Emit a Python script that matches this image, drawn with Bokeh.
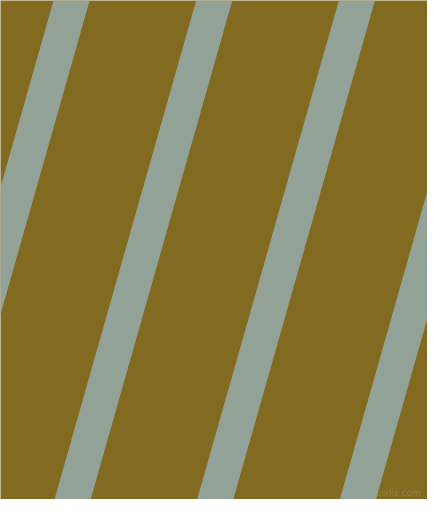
from bokeh.plotting import figure
from bokeh.models import Range1d
from bokeh.core.properties import value
from bokeh.embed import file_html
from bokeh.resources import INLINE

# ---- data ----
background_color = "#826a21"
stripe_color = "#93a296"
stripe_top_x = [55, 203, 351, 499]   # left edge of each stripe at the top
stripe_width = 37.5                  # horizontal width of a stripe
stripe_drift = 147                   # horizontal shift of a stripe from top to bottom
canvas_w = 443
canvas_h = 515
watermark_text = ["pixlis.com"]
watermark_x = [436]
watermark_y = [508]

p = figure(width=427, height=499, output_backend="svg", toolbar_location=None,
           x_range=Range1d(0, canvas_w), y_range=Range1d(canvas_h, 0),
           min_border=0, min_border_left=0, min_border_right=0,
           min_border_top=0, min_border_bottom=0)
p.axis.visible = False
p.grid.visible = False
p.outline_line_color = None
p.background_fill_color = background_color
p.border_fill_color = background_color

xs = [[x0, x0 + stripe_width, x0 + stripe_width - stripe_drift, x0 - stripe_drift]
      for x0 in stripe_top_x]
ys = [[0, 0, canvas_h, canvas_h] for _ in stripe_top_x]
p.patches(xs, ys, fill_color=stripe_color, line_color=None)

p.text(x=watermark_x, y=watermark_y, text=watermark_text,
       text_align="right", text_baseline="alphabetic",
       text_font=value("DejaVu Sans"), text_font_size="9px",
       text_color="#b8ad8a", text_alpha=0.35)

open("out.html", "w").write(file_html(p, INLINE))
